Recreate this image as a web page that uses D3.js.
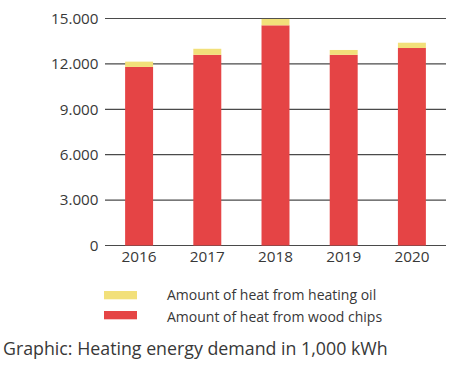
<!DOCTYPE html>
<html><head><meta charset="utf-8">
<script src="https://cdn.jsdelivr.net/npm/d3@7"></script>
<style>
html,body{margin:0;padding:0;background:#fff;}
svg text{font-family:"Open Sans","Noto Sans",sans-serif;fill:#383838;}
</style></head>
<body><svg id="c" width="453" height="369"></svg>
<script>
const years = ["2016","2017","2018","2019","2020"];
const woodChips = [11800, 12600, 14550, 12600, 13050];
const heatingOil = [350, 400, 420, 320, 350];
const yTicks = [0, 3000, 6000, 9000, 12000, 15000];
const seriesNames = ["Amount of heat from heating oil", "Amount of heat from wood chips"];
const seriesColors = ["#f2e07a", "#e54445"];
const caption = "Graphic: Heating energy demand in 1,000 kWh";

const svg = d3.select("#c");
const m = {left:105, right:446, top:18.5, bottom:245.5};
const x = d3.scaleBand().domain(years).range([m.left, m.right]).paddingInner(0.59).paddingOuter(0.295);
const y = d3.scaleLinear().domain([0,15000]).range([m.bottom, m.top]);

// gridlines
svg.append("g").selectAll("line").data(yTicks).join("line")
  .attr("x1", m.left).attr("x2", m.right)
  .attr("y1", d=>y(d)).attr("y2", d=>y(d))
  .attr("stroke", "#4a4a4a").attr("stroke-width", 1.2);

// y labels
const fmt = d => d===0 ? "0" : d3.format(",")(d).replace(/,/g,".");
svg.append("g").selectAll("text").data(yTicks).join("text")
  .attr("x", 98.5).attr("y", d=>y(d)+5.3)
  .attr("text-anchor","end").attr("font-size", 15.2)
  .text(fmt);

const data = years.map((yr,i)=>({yr, wood:woodChips[i], oil:heatingOil[i]}));
// bars
svg.append("g").selectAll("rect.w").data(data).join("rect")
  .attr("x", d=>x(d.yr)).attr("width", x.bandwidth())
  .attr("y", d=>y(d.wood)).attr("height", d=>y(0)-y(d.wood))
  .attr("fill", seriesColors[1]);
svg.append("g").selectAll("rect.o").data(data).join("rect")
  .attr("x", d=>x(d.yr)).attr("width", x.bandwidth())
  .attr("y", d=>y(d.wood+d.oil)).attr("height", d=>y(d.wood)-y(d.wood+d.oil))
  .attr("fill", seriesColors[0]);

// x labels
svg.append("g").selectAll("text").data(years).join("text")
  .attr("x", d=>x(d)+x.bandwidth()/2).attr("y", 261.5)
  .attr("text-anchor","middle").attr("font-size", 15.3)
  .text(d=>d);

// legend
const lg = svg.append("g");
seriesNames.forEach((n,i)=>{
  lg.append("rect").attr("x",104).attr("y",291+i*20).attr("width",33).attr("height",8.3).attr("fill",seriesColors[i]);
  lg.append("text").attr("x",167).attr("y",299.5+i*22).attr("font-size",14).text(n);
});

svg.append("text").attr("x",3).attr("y",355).attr("font-size",17.8).text(caption);
</script></body></html>
